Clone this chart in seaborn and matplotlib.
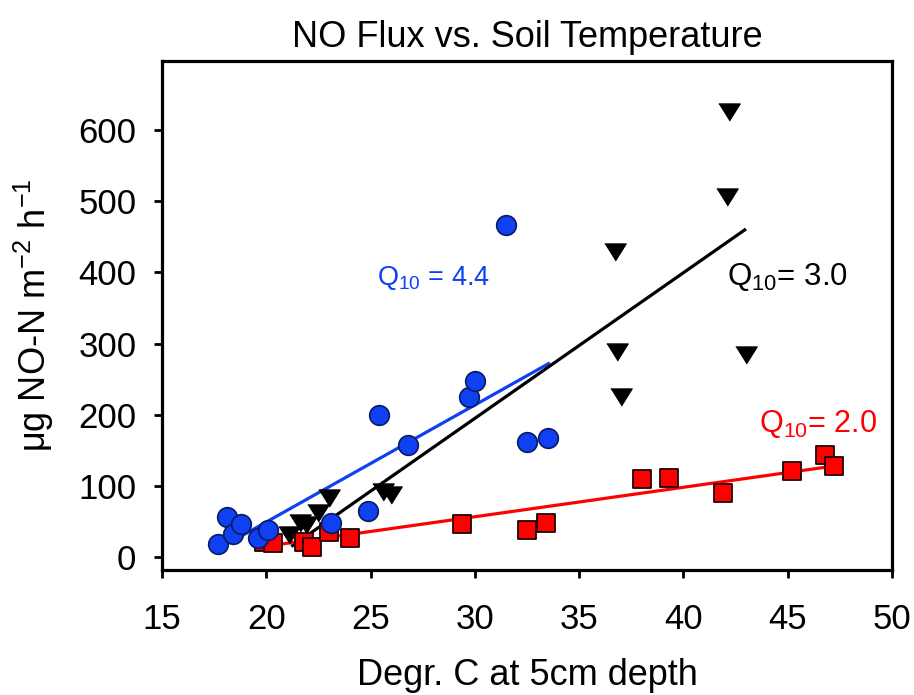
import matplotlib
matplotlib.use("Agg")
import matplotlib.pyplot as plt
import seaborn as sns
import pandas as pd

# ---------------- data ----------------
blue_x = [17.7, 18.1, 18.4, 18.8, 19.6, 20.1, 23.1, 24.9, 25.4, 26.8, 29.7, 30.0, 31.5, 32.5, 33.5]
blue_y = [18, 56, 32, 46, 27, 38, 48, 65, 200, 157, 225, 247, 466, 162, 167]

black_x = [21.1, 21.6, 21.9, 22.5, 23.0, 25.6, 26.0, 36.7, 36.8, 37.0, 42.1, 42.2, 43.0]
black_y = [31, 48, 45, 62, 83, 91, 87, 429, 288, 225, 506, 625, 284]

red_x = [19.9, 20.3, 21.8, 22.2, 23.0, 24.0, 29.4, 32.5, 33.4, 38.0, 39.3, 41.9, 45.2, 46.8, 47.2]
red_y = [21, 20, 22, 15, 35, 27, 46, 38, 48, 110, 111, 90, 121, 143, 128]

# fitted lines (end points)
blue_fit_x = [18.7, 33.6]
blue_fit_y = [28, 273]
black_fit_x = [21.2, 43.0]
black_fit_y = [15, 461]
red_fit_x = [19.9, 47.2]
red_fit_y = [15, 128]

x_ticks = [15, 20, 25, 30, 35, 40, 45, 50]
y_ticks = [0, 100, 200, 300, 400, 500, 600]

BLUE = "#0f40f2"
RED = "#ff0000"
BLACK = "#000000"

# ---------------- style ----------------
sns.set_theme(style="white")
plt.rcParams["font.family"] = ["Liberation Sans", "DejaVu Sans"]
plt.rcParams["mathtext.fontset"] = "custom"
plt.rcParams["mathtext.rm"] = "Liberation Sans"
plt.rcParams["mathtext.it"] = "Liberation Sans:italic"
plt.rcParams["mathtext.bf"] = "Liberation Sans:bold"

fig = plt.figure(figsize=(9.14, 6.95), dpi=100)
ax = fig.add_axes([162 / 914, 1 - 570 / 695, 730 / 914, 509 / 695])

df_b = pd.DataFrame({"x": blue_x, "y": blue_y})
df_k = pd.DataFrame({"x": black_x, "y": black_y})
df_r = pd.DataFrame({"x": red_x, "y": red_y})

# fit lines (drawn beneath markers)
ax.plot(blue_fit_x, blue_fit_y, color=BLUE, linewidth=2.3, zorder=2, solid_capstyle="butt")
ax.plot(black_fit_x, black_fit_y, color=BLACK, linewidth=2.3, zorder=2, solid_capstyle="butt")
ax.plot(red_fit_x, red_fit_y, color=RED, linewidth=2.3, zorder=2, solid_capstyle="butt")

tri = [(-1, 0.8), (1, 0.8), (0, -0.8)]
sns.scatterplot(data=df_k, x="x", y="y", ax=ax, marker=tri, s=240,
                color=BLACK, edgecolor=BLACK, linewidth=0.8, zorder=3)
sns.scatterplot(data=df_r, x="x", y="y", ax=ax, marker="s", s=180,
                color=RED, edgecolor="#200000", linewidth=1.3, zorder=3)
sns.scatterplot(data=df_b, x="x", y="y", ax=ax, marker="o", s=200,
                color=BLUE, edgecolor="#0a1a60", linewidth=1.2, zorder=4)

# annotations
ax.text(25.3, 382, r"Q$_\mathregular{10}$ = 4.4", color=BLUE, fontsize=19.5, va="baseline")
ax.text(42.1, 382, r"Q$_\mathregular{10}$= 3.0", color=BLACK, fontsize=22.5, va="baseline")
ax.text(43.6, 176, r"Q$_\mathregular{10}$= 2.0", color=RED, fontsize=22, va="baseline")

ax.set_xlim(15, 50)
ax.set_ylim(-18, 697)
ax.set_xticks(x_ticks)
ax.set_yticks(y_ticks)
ax.set_xticklabels([str(t) for t in x_ticks])
ax.set_yticklabels([str(t) for t in y_ticks])

for sp in ax.spines.values():
    sp.set_visible(True)
    sp.set_color("black")
    sp.set_linewidth(2.3)

ax.tick_params(axis="both", which="both", direction="out", length=5.5, width=2.0,
               color="black", labelsize=25, labelcolor="black")
ax.tick_params(axis="x", pad=18, bottom=True, top=False)
ax.tick_params(axis="y", pad=13, left=True, right=False)

ax.set_xlabel("Degr. C at 5cm depth", fontsize=26, color="black", labelpad=16)
ax.set_ylabel(r"μg NO-N m$^\mathregular{-2}$ h$^\mathregular{-1}$", fontsize=26, color="black", labelpad=16)
ax.set_title("NO Flux vs. Soil Temperature", fontsize=26, color="black", pad=10)

fig.savefig("out.png", dpi=100, facecolor="white")
